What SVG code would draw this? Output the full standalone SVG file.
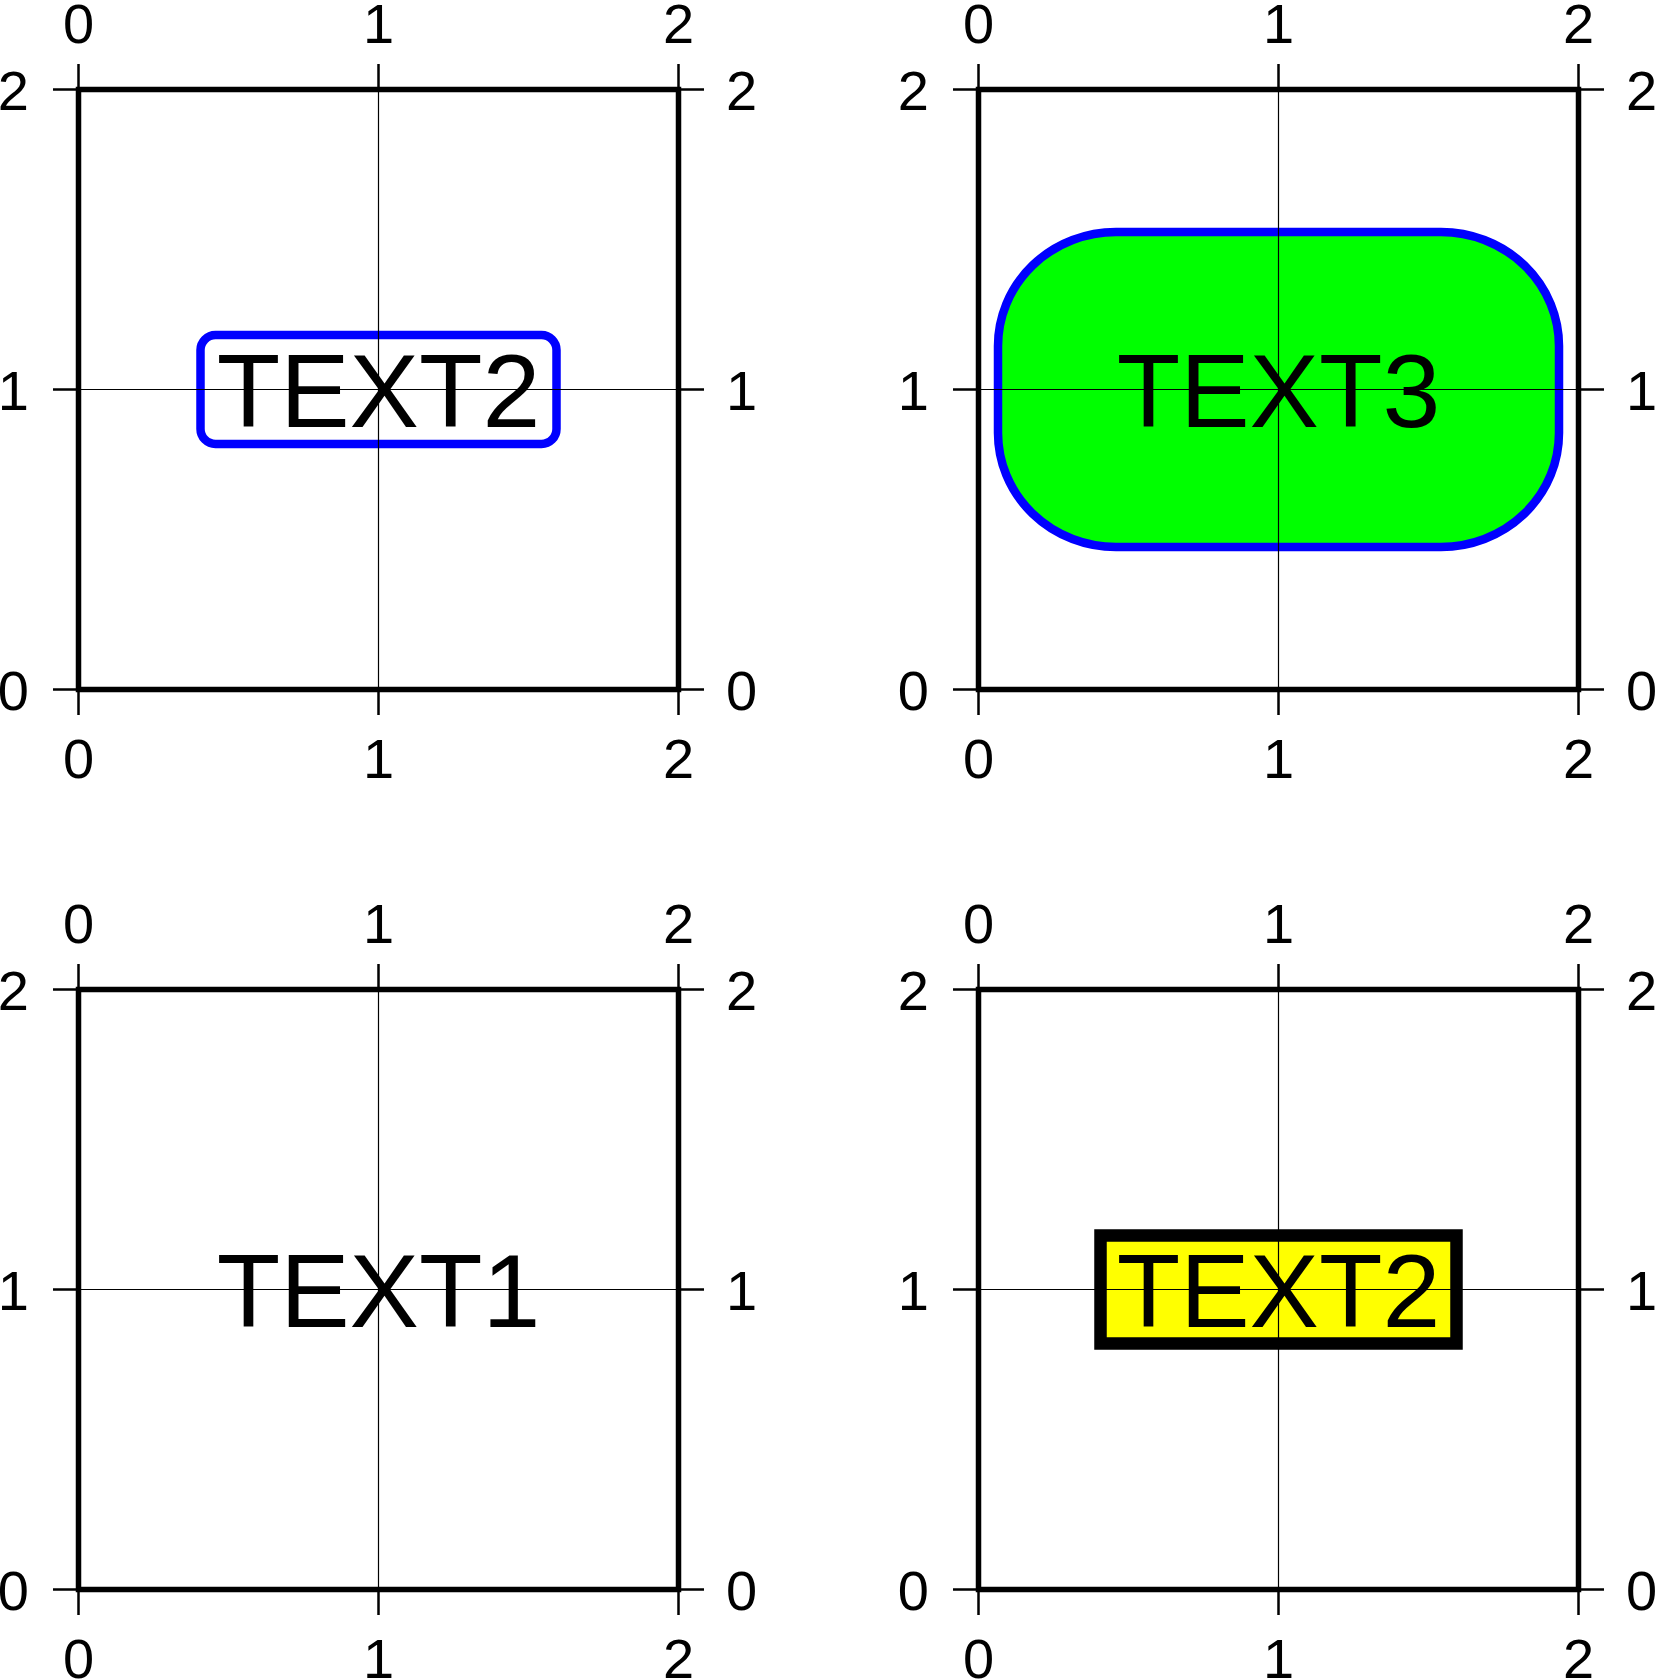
<svg xmlns="http://www.w3.org/2000/svg" xmlns:xlink="http://www.w3.org/1999/xlink" width="1656" height="1680" viewBox="0 0 1656 1680">
<style>
.frame{fill:none;stroke:#000;stroke-width:5.5;stroke-linecap:square}
.tick{stroke:#000;stroke-width:2.5}
.grid{stroke:#000;stroke-width:1.2}
.lbl{font-family:"Liberation Sans",Arial,sans-serif;font-size:56px;fill:#000}
.big{font-family:"Liberation Sans",Arial,sans-serif;font-size:104px;fill:#000;text-anchor:middle}
.tc{text-anchor:middle}
.te{text-anchor:end}
.ts{text-anchor:start}
</style>
<defs>
<g id="axes">
<rect class="frame" x="78.5" y="89.5" width="600" height="600"/>
<path class="tick" d="M78.5,64V89.5M378.5,64V89.5M678.5,64V89.5M78.5,689.5V715M378.5,689.5V715M678.5,689.5V715M53,89.5H78.5M53,389.5H78.5M53,689.5H78.5M678.5,89.5H704M678.5,389.5H704M678.5,689.5H704"/>
<text class="lbl tc" x="78.5" y="42.5">0</text>
<text class="lbl tc" x="378.5" y="42.5">1</text>
<text class="lbl tc" x="678.5" y="42.5">2</text>
<text class="lbl tc" x="78.5" y="777.5">0</text>
<text class="lbl tc" x="378.5" y="777.5">1</text>
<text class="lbl tc" x="678.5" y="777.5">2</text>
<text class="lbl te" x="29" y="110">2</text>
<text class="lbl te" x="29" y="410">1</text>
<text class="lbl te" x="29" y="710">0</text>
<text class="lbl ts" x="726" y="110">2</text>
<text class="lbl ts" x="726" y="410">1</text>
<text class="lbl ts" x="726" y="710">0</text>
</g>
<path id="gridlines" class="grid" d="M378.5,89.5V689.5M78.5,389.5H678.5"/>
</defs>
<rect x="0" y="0" width="1656" height="1680" fill="#fff"/>
<g id="panel-top-left">
<use xlink:href="#axes"/>
<rect x="200.5" y="335" width="356" height="109" rx="15" ry="15" fill="#fff" stroke="#0000ff" stroke-width="8.5"/>
<text class="big" x="378.5" y="427">TEXT2</text>
<use xlink:href="#gridlines"/>
</g>
<g id="panel-top-right" transform="translate(900,0)">
<use xlink:href="#axes"/>
<rect x="98" y="232" width="561" height="315" rx="118" ry="114" fill="#00ff00" stroke="#0000ff" stroke-width="8.5"/>
<text class="big" x="378.5" y="427">TEXT3</text>
<use xlink:href="#gridlines"/>
</g>
<g id="panel-bottom-left" transform="translate(0,900)">
<use xlink:href="#axes"/>
<text class="big" x="378.5" y="427">TEXT1</text>
<use xlink:href="#gridlines"/>
</g>
<g id="panel-bottom-right" transform="translate(900,900)">
<use xlink:href="#axes"/>
<rect x="200.5" y="335.5" width="356" height="108" fill="#ffff00" stroke="#000" stroke-width="12.5"/>
<text class="big" x="378.5" y="427">TEXT2</text>
<use xlink:href="#gridlines"/>
</g>
</svg>
